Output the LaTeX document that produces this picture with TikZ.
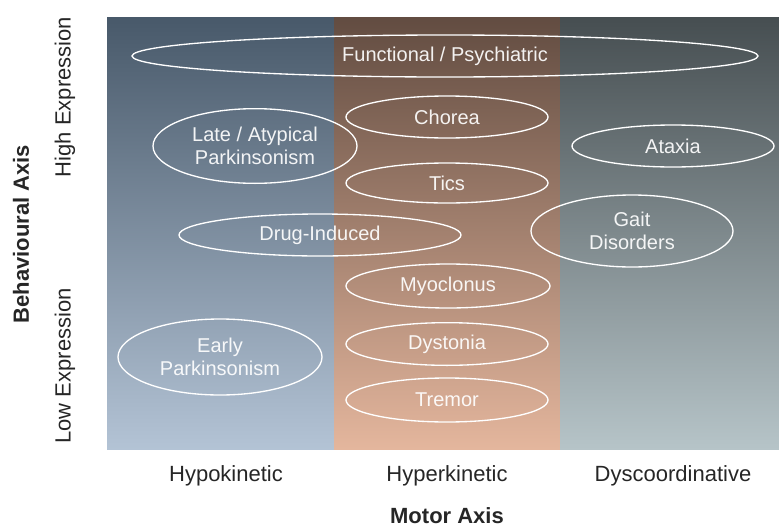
\documentclass[tikz,border=0pt]{standalone}
\usepackage{fontspec}
\setmainfont{Liberation Sans}
\usetikzlibrary{shapes.geometric}
\definecolor{hypoT}{RGB}{72,89,106}
\definecolor{hypoB}{RGB}{179,195,213}
\definecolor{hyperT}{RGB}{98,76,65}
\definecolor{hyperB}{RGB}{228,182,157}
\definecolor{dysT}{RGB}{70,78,81}
\definecolor{dysB}{RGB}{182,196,200}
\tikzset{
  cat/.style={ellipse, draw=white, line width=1pt, inner sep=0pt, align=center,
    text=white, text opacity=0.92, font=\fontsize{15}{17.5}\selectfont},
  axlab/.style={font=\fontsize{16.5}{19}\selectfont, text=black!85},
  axtitle/.style={font=\fontsize{16.5}{19}\selectfont\bfseries, text=black!85}
}
\begin{document}
\begin{tikzpicture}[x=0.75pt, y=-0.75pt]
\useasboundingbox (0,0) rectangle (779,529);
\fill[white] (0,0) rectangle (779,529);
% panels
\shade[top color=hypoT, bottom color=hypoB] (107,17) rectangle (334,449);
\shade[top color=hyperT, bottom color=hyperB] (334,17) rectangle (560,449);
\shade[top color=dysT, bottom color=dysB] (560,17) rectangle (779,449);
% ellipses
\node[cat, minimum width=469.5pt, minimum height=31.5pt] (func) at (445,56) {Functional / Psychiatric};
\node[cat, minimum width=151.5pt, minimum height=31.5pt] (chorea) at (447,117) {Chorea};
\node[cat, minimum width=151.5pt, minimum height=30pt] (tics) at (447,183) {Tics};
\node[cat, minimum width=153pt, minimum height=56pt] (late) at (255,146) {Late / Atypical\\Parkinsonism};
\node[cat, minimum width=151.5pt, minimum height=31.5pt] (ataxia) at (673,146) {Ataxia};
\node[cat, minimum width=151.5pt, minimum height=54pt] (gait) at (632,231) {Gait\\Disorders};
\node[cat, minimum width=211.5pt, minimum height=31.5pt] (drug) at (320,235) {Drug-Induced};
\node[cat, minimum width=153pt, minimum height=33pt] (myo) at (448,286) {Myoclonus};
\node[cat, minimum width=151.5pt, minimum height=32pt] (dyst) at (447,344) {Dystonia};
\node[cat, minimum width=151.5pt, minimum height=33pt] (tremor) at (447,400) {Tremor};
\node[cat, minimum width=153pt, minimum height=57pt] (early) at (220,357) {Early\\Parkinsonism};
% axis labels
\node[axlab] (hypo) at (226,476) {Hypokinetic};
\node[axlab] (hyper) at (447,476) {Hyperkinetic};
\node[axlab] (dys) at (673,476) {Dyscoordinative};
\node[axtitle, inner sep=1pt] (motor) at (447,516) {Motor Axis};
\node[axlab, rotate=90] (high) at (65,97) {High Expression};
\node[axlab, rotate=90] (low) at (65,366) {Low Expression};
\node[axtitle, rotate=90] (behav) at (21,234) {Behavioural Axis};
\end{tikzpicture}
\end{document}
